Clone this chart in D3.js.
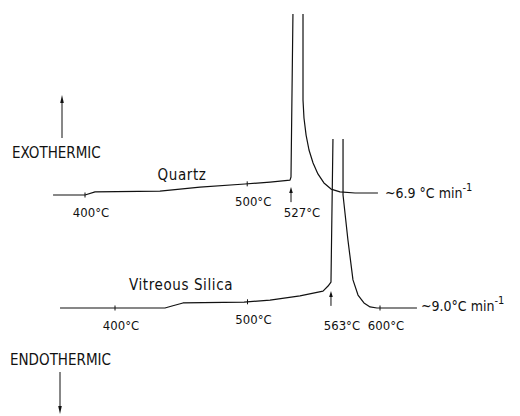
<!DOCTYPE html>
<html><head><meta charset="utf-8">
<script src="https://cdn.jsdelivr.net/npm/d3@7"></script>
<style>
body{margin:0;background:#fff}
text{font-family:"DejaVu Sans Condensed","DejaVu Sans",sans-serif;font-stretch:condensed;fill:#111}
</style>
</head><body><svg id="c" width="520" height="416"></svg>
<script>
// Quartz DTA trace: apparent temperature (°C) vs signal (arbitrary units)
const quartzT = [380.3,400.0,406.2,446.2,470.9,498.6,514.1,526.4,527.0,528.2,534.4,534.4,535.0,536.3,538.1,540.6,543.6,547.3,551.7,557.2,566.5,580.6];
const quartzS = [0,0,1.7,2.2,4.4,6.1,7.2,8.3,10.0,100.6,100.6,52.8,42.8,33.3,25.0,17.8,11.7,6.7,3.3,1.7,1.1,1.1];
// Vitreous silica DTA trace
const silicaT = [358.5,401.5,437.7,443.0,451.3,497.4,517.0,539.6,557.0,560.8,563.0,564.5,572.1,572.1,575.8,579.6,583.4,587.9,592.5,597.7,627.9];
const silicaS = [0,0,0,1.1,2.8,3.3,4.4,6.7,9.4,12.2,14.4,93.9,93.9,62.8,37.8,15.6,7.2,2.8,0.6,0,0];
const quartzTicks = [400, 500];
const quartzArrows = [527];
const silicaTicks = [400, 500, 600];
const silicaArrows = [563];
const seriesNames = ["Quartz", "Vitreous Silica"];
const rateLabels = ["~6.9 °C min", "~9.0°C min"];
const axisLabels = ["EXOTHERMIC", "ENDOTHERMIC"];

const svg = d3.select("#c");
const ink = "#111";

const traces = [
  {T: quartzT, S: quartzS, ticks: quartzTicks, arrows: quartzArrows, name: seriesNames[0], rate: rateLabels[0],
   x: d3.scaleLinear().domain([400, 527]).range([85, 291]),
   y: d3.scaleLinear().domain([0, 100]).range([195, 15]),
   nameX: 182, nameY: 180, rateX: 385, rateY: 198},
  {T: silicaT, S: silicaS, ticks: silicaTicks, arrows: silicaArrows, name: seriesNames[1], rate: rateLabels[1],
   x: d3.scaleLinear().domain([400, 600]).range([115, 380]),
   y: d3.scaleLinear().domain([0, 100]).range([308, 128]),
   nameX: 181, nameY: 290, rateX: 421, rateY: 311}
];

function yAt(tr, t) {
  for (let i = 0; i < tr.T.length - 1; i++) {
    const a = tr.T[i], b = tr.T[i+1];
    if (a <= t && t <= b && b > a) {
      const f = (t - a) / (b - a);
      return tr.y(tr.S[i] + f * (tr.S[i+1] - tr.S[i]));
    }
  }
  return tr.y(0);
}

traces.forEach(tr => {
  const pts = tr.T.map((t, i) => [t, tr.S[i]]);
  // the peak runs off the recorder chart: leave its top open
  const top = d3.max(tr.S);
  const k = tr.S.findIndex((s, i) => s === top && tr.S[i+1] === top);
  const line = d3.line().x(d => tr.x(d[0])).y(d => tr.y(d[1]));
  [pts.slice(0, k + 1), pts.slice(k + 1)].forEach(seg => {
    svg.append("path").attr("d", line(seg)).attr("fill", "none")
      .attr("stroke", ink).attr("stroke-width", 1.2).attr("stroke-linejoin", "round");
  });

  // temperature tick marks on trace
  tr.ticks.forEach(t => {
    const xx = tr.x(t), yy = yAt(tr, t);
    svg.append("line").attr("x1", xx).attr("x2", xx).attr("y1", yy - 2.5).attr("y2", yy + 2.5)
      .attr("stroke", ink).attr("stroke-width", 1);
    svg.append("text").attr("x", xx + 6).attr("y", yy + 22).attr("text-anchor", "middle")
      .attr("font-size", 13).text(t + "°C");
  });

  // onset arrows
  tr.arrows.forEach(t => {
    const xx = tr.x(t), a = yAt(tr, t - 1) + 7, b = a + 15;
    svg.append("line").attr("x1", xx).attr("x2", xx).attr("y1", a + 3).attr("y2", b)
      .attr("stroke", ink).attr("stroke-width", 1);
    svg.append("path").attr("d", `M${xx},${a} L${xx-1.8},${a+6} L${xx+1.8},${a+6} Z`).attr("fill", ink);
    svg.append("text").attr("x", xx + 11).attr("y", tr.y(0) + 22).attr("text-anchor", "middle")
      .attr("font-size", 13).text(t + "°C");
  });

  svg.append("text").attr("x", tr.nameX).attr("y", tr.nameY).attr("text-anchor", "middle")
    .attr("font-size", 15).attr("letter-spacing", 0.6).text(tr.name);

  const rt = svg.append("text").attr("x", tr.rateX).attr("y", tr.rateY).attr("font-size", 14);
  rt.append("tspan").text(tr.rate);
  rt.append("tspan").attr("font-size", 11).attr("dy", -7).text("-1");
});

// EXOTHERMIC / ENDOTHERMIC
svg.append("line").attr("x1", 62).attr("x2", 62).attr("y1", 101).attr("y2", 138).attr("stroke", ink).attr("stroke-width", 1);
svg.append("path").attr("d", "M62,95 L60.2,103 L63.8,103 Z").attr("fill", ink);
svg.append("text").attr("x", 12).attr("y", 158).attr("font-size", 15).text(axisLabels[0]);

svg.append("text").attr("x", 10).attr("y", 365).attr("font-size", 15).text(axisLabels[1]);
svg.append("line").attr("x1", 60).attr("x2", 60).attr("y1", 372).attr("y2", 407).attr("stroke", ink).attr("stroke-width", 1);
svg.append("path").attr("d", "M60,414 L58.2,406 L61.8,406 Z").attr("fill", ink);
</script>
</body></html>
